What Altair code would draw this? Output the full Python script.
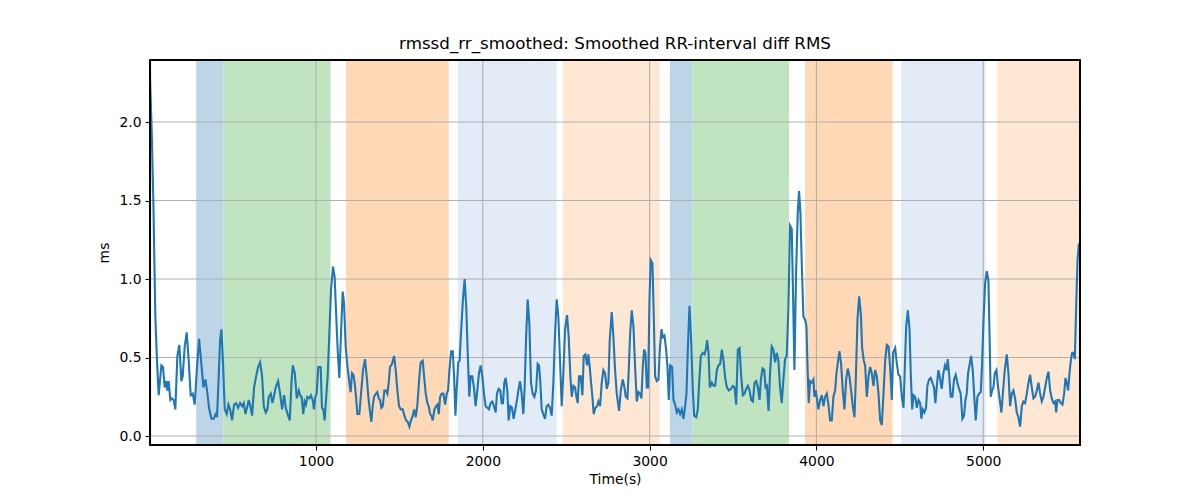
import altair as alt
import pandas as pd

# ---- data ----
t = [5, 15, 25, 37, 47, 57, 73, 83, 93, 103, 109, 117, 127, 137, 147, 157, 169, 181, 193, 201,
     213, 225, 237, 249, 261, 273, 287, 299, 313, 325, 337, 347, 359, 373, 387, 399, 407, 417, 425, 433,
     443, 453, 465, 475, 485, 497, 509, 521, 533, 545, 557, 567, 577, 589, 597, 605, 617, 629, 641, 653,
     665, 677, 687, 699, 709, 717, 729, 739, 749, 759, 773, 785, 797, 809, 819, 833, 843, 853, 861, 873,
     885, 897, 909, 914, 924, 932, 940, 948, 960, 970, 980, 988, 996, 1004, 1014, 1028, 1036, 1044, 1052, 1060,
     1070, 1080, 1090, 1102, 1112, 1120, 1130, 1140, 1150, 1160, 1168, 1178, 1188, 1200, 1208, 1216, 1224, 1232, 1240, 1248,
     1260, 1270, 1282, 1294, 1304, 1314, 1322, 1332, 1340, 1348, 1360, 1368, 1376, 1384, 1392, 1400, 1410, 1420, 1428, 1436,
     1444, 1456, 1468, 1478, 1488, 1498, 1508, 1520, 1530, 1540, 1550, 1560, 1570, 1580, 1588, 1598, 1608, 1620, 1628, 1640,
     1648, 1658, 1668, 1676, 1684, 1692, 1700, 1710, 1720, 1728, 1736, 1744, 1754, 1764, 1774, 1784, 1792, 1800, 1810, 1820,
     1828, 1836, 1843, 1853, 1861, 1869, 1881, 1891, 1901, 1909, 1919, 1927, 1937, 1947, 1957, 1967, 1977, 1987, 1997, 2007,
     2017, 2027, 2037, 2047, 2057, 2067, 2077, 2085, 2095, 2105, 2113, 2121, 2129, 2137, 2147, 2155, 2165, 2175, 2185, 2195,
     2205, 2213, 2223, 2233, 2243, 2251, 2259, 2269, 2279, 2289, 2299, 2309, 2319, 2329, 2337, 2345, 2353, 2363, 2373, 2383,
     2393, 2403, 2413, 2423, 2433, 2443, 2453, 2463, 2473, 2483, 2493, 2505, 2515, 2525, 2533, 2543, 2553, 2561, 2569, 2577,
     2587, 2597, 2605, 2615, 2625, 2633, 2641, 2649, 2657, 2665, 2675, 2685, 2693, 2703, 2713, 2723, 2733, 2743, 2753, 2761,
     2773, 2783, 2793, 2803, 2817, 2827, 2839, 2849, 2857, 2867, 2875, 2883, 2893, 2903, 2913, 2923, 2933, 2943, 2951, 2959,
     2967, 2975, 2983, 2991, 2999, 3007, 3017, 3025, 3033, 3043, 3053, 3061, 3071, 3079, 3089, 3099, 3107, 3115, 3123, 3135,
     3143, 3153, 3163, 3173, 3183, 3193, 3203, 3213, 3221, 3229, 3239, 3249, 3259, 3267, 3279, 3289, 3297, 3307, 3319, 3329,
     3337, 3345, 3353, 3361, 3373, 3383, 3393, 3403, 3413, 3423, 3433, 3443, 3453, 3463, 3475, 3487, 3499, 3509, 3519, 3529,
     3539, 3549, 3559, 3569, 3579, 3589, 3599, 3609, 3619, 3629, 3639, 3649, 3659, 3667, 3677, 3687, 3695, 3703, 3713, 3722,
     3732, 3742, 3752, 3762, 3772, 3782, 3792, 3802, 3812, 3822, 3832, 3842, 3852, 3860, 3868, 3878, 3888, 3896, 3904, 3912,
     3922, 3932, 3940, 3946, 3954, 3962, 3972, 3982, 3988, 3996, 4004, 4012, 4022, 4032, 4042, 4052, 4062, 4072, 4082, 4092,
     4102, 4112, 4120, 4130, 4138, 4148, 4158, 4168, 4178, 4188, 4198, 4208, 4218, 4228, 4236, 4246, 4256, 4266, 4274, 4284,
     4292, 4302, 4312, 4322, 4332, 4342, 4352, 4362, 4372, 4382, 4392, 4402, 4412, 4422, 4432, 4442, 4452, 4460, 4472, 4482,
     4492, 4502, 4512, 4522, 4530, 4538, 4548, 4558, 4566, 4574, 4582, 4592, 4602, 4612, 4622, 4629, 4637, 4647, 4657, 4665,
     4675, 4685, 4695, 4705, 4713, 4721, 4731, 4741, 4751, 4761, 4771, 4781, 4787, 4795, 4805, 4815, 4825, 4835, 4845, 4855,
     4865, 4875, 4885, 4893, 4901, 4909, 4919, 4927, 4937, 4945, 4955, 4965, 4975, 4985, 4993, 5001, 5011, 5021, 5031, 5037,
     5045, 5053, 5061, 5069, 5079, 5089, 5099, 5109, 5119, 5129, 5141, 5151, 5161, 5171, 5181, 5191, 5201, 5211, 5221, 5231,
     5241, 5251, 5261, 5271, 5281, 5291, 5301, 5311, 5321, 5331, 5341, 5351, 5361, 5371, 5381, 5391, 5401, 5411, 5421, 5431,
     5437, 5445, 5455, 5465, 5475, 5485, 5493, 5501, 5509, 5517, 5525, 5533, 5541, 5549, 5557, 5565, 5573, 5580]

rmssd = [2.28, 1.95, 1.50, 0.76, 0.48, 0.26, 0.45, 0.44, 0.31, 0.35, 0.29, 0.35, 0.23, 0.24, 0.23, 0.17, 0.51, 0.58, 0.35, 0.38,
         0.57, 0.66, 0.48, 0.26, 0.27, 0.20, 0.44, 0.62, 0.46, 0.31, 0.36, 0.29, 0.18, 0.11, 0.11, 0.14, 0.13, 0.38, 0.61, 0.68,
         0.46, 0.17, 0.14, 0.20, 0.17, 0.10, 0.20, 0.21, 0.18, 0.21, 0.19, 0.21, 0.14, 0.19, 0.23, 0.20, 0.13, 0.31, 0.38, 0.44,
         0.47, 0.38, 0.19, 0.15, 0.17, 0.25, 0.27, 0.21, 0.26, 0.31, 0.35, 0.27, 0.17, 0.26, 0.18, 0.13, 0.10, 0.34, 0.45, 0.40,
         0.24, 0.29, 0.25, 0.25, 0.14, 0.22, 0.20, 0.25, 0.24, 0.26, 0.23, 0.17, 0.25, 0.27, 0.44, 0.44, 0.18, 0.17, 0.10, 0.23,
         0.38, 0.65, 0.93, 1.08, 1.01, 0.80, 0.55, 0.37, 0.65, 0.92, 0.85, 0.57, 0.45, 0.34, 0.28, 0.40, 0.39, 0.34, 0.25, 0.14,
         0.14, 0.27, 0.42, 0.49, 0.38, 0.25, 0.17, 0.09, 0.19, 0.25, 0.27, 0.28, 0.24, 0.23, 0.18, 0.19, 0.29, 0.29, 0.27, 0.34,
         0.44, 0.46, 0.51, 0.42, 0.29, 0.19, 0.17, 0.17, 0.13, 0.10, 0.09, 0.06, 0.10, 0.13, 0.17, 0.12, 0.20, 0.38, 0.47, 0.48,
         0.38, 0.27, 0.21, 0.19, 0.14, 0.13, 0.10, 0.17, 0.19, 0.20, 0.14, 0.25, 0.27, 0.27, 0.20, 0.27, 0.29, 0.42, 0.54, 0.54,
         0.38, 0.13, 0.29, 0.47, 0.48, 0.65, 0.87, 1.00, 0.82, 0.55, 0.25, 0.38, 0.38, 0.31, 0.19, 0.29, 0.40, 0.45, 0.38, 0.27,
         0.19, 0.18, 0.17, 0.21, 0.22, 0.19, 0.15, 0.27, 0.30, 0.29, 0.21, 0.21, 0.34, 0.37, 0.29, 0.10, 0.19, 0.18, 0.11, 0.17,
         0.23, 0.29, 0.35, 0.27, 0.14, 0.31, 0.61, 0.87, 0.72, 0.34, 0.27, 0.25, 0.29, 0.46, 0.45, 0.34, 0.17, 0.14, 0.11, 0.19,
         0.20, 0.18, 0.13, 0.34, 0.65, 0.87, 0.76, 0.48, 0.19, 0.40, 0.68, 0.77, 0.63, 0.38, 0.25, 0.32, 0.31, 0.25, 0.21, 0.38,
         0.38, 0.26, 0.51, 0.52, 0.45, 0.52, 0.44, 0.34, 0.25, 0.14, 0.18, 0.19, 0.22, 0.19, 0.34, 0.42, 0.40, 0.30, 0.34, 0.61,
         0.79, 0.63, 0.42, 0.27, 0.16, 0.29, 0.36, 0.31, 0.25, 0.24, 0.42, 0.65, 0.80, 0.70, 0.44, 0.22, 0.28, 0.27, 0.24, 0.44,
         0.55, 0.53, 0.31, 0.31, 0.87, 1.12, 1.10, 0.76, 0.38, 0.35, 0.36, 0.55, 0.68, 0.63, 0.64, 0.55, 0.44, 0.23, 0.45, 0.44,
         0.23, 0.20, 0.15, 0.17, 0.14, 0.17, 0.11, 0.19, 0.27, 0.55, 0.83, 0.61, 0.29, 0.13, 0.12, 0.17, 0.34, 0.51, 0.53, 0.52,
         0.55, 0.61, 0.53, 0.31, 0.34, 0.32, 0.32, 0.42, 0.45, 0.46, 0.55, 0.48, 0.37, 0.31, 0.29, 0.30, 0.32, 0.31, 0.20, 0.55,
         0.56, 0.38, 0.26, 0.27, 0.30, 0.32, 0.29, 0.23, 0.22, 0.34, 0.35, 0.31, 0.23, 0.36, 0.43, 0.42, 0.31, 0.32, 0.16, 0.40,
         0.57, 0.55, 0.47, 0.53, 0.48, 0.31, 0.21, 0.36, 0.49, 0.51, 0.82, 1.34, 1.32, 0.89, 0.42, 1.04, 1.42, 1.56, 1.42, 1.10,
         0.76, 0.74, 0.70, 0.46, 0.21, 0.35, 0.34, 0.36, 0.25, 0.29, 0.23, 0.17, 0.23, 0.26, 0.19, 0.25, 0.27, 0.20, 0.10, 0.10,
         0.25, 0.29, 0.40, 0.48, 0.54, 0.46, 0.29, 0.17, 0.36, 0.43, 0.38, 0.29, 0.19, 0.12, 0.36, 0.74, 0.89, 0.78, 0.56, 0.48,
         0.45, 0.25, 0.38, 0.44, 0.40, 0.32, 0.42, 0.38, 0.27, 0.10, 0.07, 0.27, 0.48, 0.58, 0.57, 0.44, 0.23, 0.53, 0.56, 0.46,
         0.39, 0.38, 0.25, 0.18, 0.44, 0.70, 0.80, 0.68, 0.38, 0.17, 0.26, 0.25, 0.18, 0.23, 0.21, 0.11, 0.17, 0.15, 0.18, 0.32,
         0.36, 0.37, 0.34, 0.31, 0.21, 0.31, 0.42, 0.37, 0.30, 0.40, 0.45, 0.42, 0.49, 0.40, 0.25, 0.25, 0.36, 0.39, 0.34, 0.30,
         0.27, 0.11, 0.13, 0.23, 0.27, 0.40, 0.46, 0.51, 0.42, 0.27, 0.10, 0.25, 0.27, 0.28, 0.46, 0.72, 0.97, 1.05, 0.99, 0.68,
         0.25, 0.29, 0.31, 0.40, 0.42, 0.31, 0.23, 0.15, 0.29, 0.42, 0.52, 0.40, 0.19, 0.27, 0.29, 0.24, 0.15, 0.12, 0.06, 0.19,
         0.22, 0.21, 0.27, 0.34, 0.39, 0.31, 0.24, 0.25, 0.29, 0.34, 0.27, 0.22, 0.25, 0.31, 0.37, 0.41, 0.29, 0.24, 0.21, 0.22,
         0.15, 0.23, 0.23, 0.21, 0.20, 0.27, 0.37, 0.34, 0.29, 0.40, 0.48, 0.53, 0.53, 0.49, 0.82, 1.12, 1.22, 1.23]

# shaded phases
span_start = [282, 444, 1180, 1850, 2479, 3122, 3258, 3932, 4507, 5083]
span_end = [444, 1087, 1796, 2443, 3060, 3258, 3836, 4456, 5014, 5580]
span_color = ["#bcd6e8", "#c0e3c0", "#ffd8b6", "#e3ebf6", "#fee8d4",
              "#bcd6e8", "#c0e3c0", "#ffd8b6", "#e3ebf6", "#fee8d4"]

x_ticks = [1000, 2000, 3000, 4000, 5000]
y_ticks = [0.0, 0.5, 1.0, 1.5, 2.0]

title_text = "rmssd_rr_smoothed: Smoothed RR-interval diff RMS"

# ---- chart ----
X_DOM = [5, 5580]
Y_DOM = [-0.057, 2.395]
FONT = "DejaVu Sans"
W, H = 930, 385

line_df = pd.DataFrame({"t": t, "v": rmssd})
span_df = pd.DataFrame({"s": span_start, "e": span_end, "c": span_color})
xg_df = pd.DataFrame({"x": x_ticks})
yg_df = pd.DataFrame({"y": y_ticks})

xs = alt.Scale(domain=X_DOM, nice=False, zero=False)
ys = alt.Scale(domain=Y_DOM, nice=False, zero=False)

x_axis = alt.Axis(values=x_ticks, format="d", grid=False, tickSize=5, labelPadding=4, titlePadding=5)
y_axis = alt.Axis(values=y_ticks, format=".1f", grid=False, tickSize=5, labelPadding=4, titlePadding=7)

spans = alt.Chart(span_df).mark_rect().encode(
    x=alt.X("s:Q", scale=xs, axis=x_axis, title="Time(s)"),
    x2="e:Q",
    color=alt.Color("c:N", scale=None),
)

xgrid = alt.Chart(xg_df).mark_rule(color="#b0b0b0", strokeWidth=1.1).encode(
    x=alt.X("x:Q", scale=xs, axis=x_axis, title="Time(s)")
)
ygrid = alt.Chart(yg_df).mark_rule(color="#b0b0b0", strokeWidth=1.1).encode(
    y=alt.Y("y:Q", scale=ys, axis=y_axis, title="ms")
)

line = alt.Chart(line_df).mark_line(color="#1f77b4", strokeWidth=2.1, clip=True).encode(
    x=alt.X("t:Q", scale=xs, axis=x_axis, title="Time(s)"),
    y=alt.Y("v:Q", scale=ys, axis=y_axis, title="ms"),
)

# axes frame (matplotlib spines) drawn on top of the shaded spans
frame = alt.Chart(xg_df).mark_rect(fill=None, stroke="black", strokeWidth=1.1).encode(
    x=alt.value(0), x2=alt.value(W), y=alt.value(0), y2=alt.value(H)
)

chart = alt.layer(spans, xgrid, ygrid, line, frame).properties(
    width=W,
    height=H,
    title=alt.TitleParams(text=title_text, font=FONT, fontSize=16.7, fontWeight="normal",
                          color="black", anchor="middle", offset=7),
    autosize=alt.AutoSizeParams(type="none"),
    padding={"left": 142, "top": 52, "right": 112, "bottom": 47},
).configure_view(
    stroke="black", strokeWidth=1.1
).configure_axis(
    domainColor="black", domainWidth=1.1, tickColor="black", tickWidth=1.1,
    labelFont=FONT, labelFontSize=13.9, labelColor="black",
    titleFont=FONT, titleFontSize=13.9, titleColor="black", titleFontWeight="normal",
)

chart.save("out.html", embed_options={"renderer": "svg", "actions": False})
